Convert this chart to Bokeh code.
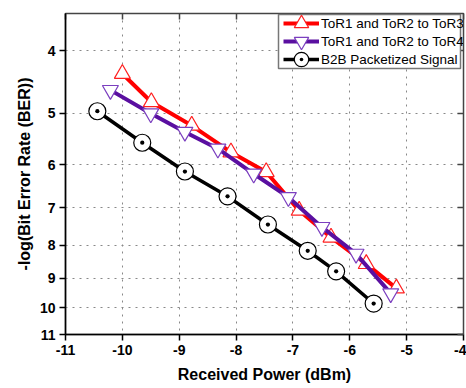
from bokeh.plotting import figure
from bokeh.models import (Range1d, FixedTicker, LinearAxis, PrintfTickFormatter,
                          CustomJSTickFormatter, Legend, LegendItem, BoxAnnotation)
from bokeh.embed import file_html
from bokeh.resources import INLINE

# ---- data ----
x_ticks = [-11, -10, -9, -8, -7, -6, -5, -4]
y_ticks = [4, 5, 6, 7, 8, 9, 10, 11]

power_tor3 = [-10.0, -9.49, -8.78, -8.09, -7.47, -6.89, -6.33, -5.71, -5.18]
ber_tor3 = [4.34, 4.80, 5.22, 5.74, 6.16, 7.07, 7.78, 8.55, 9.33]

power_tor4 = [-10.21, -9.50, -8.90, -8.32, -7.69, -7.08, -6.49, -5.89, -5.28]
ber_tor4 = [4.60, 5.00, 5.34, 5.67, 6.20, 6.74, 7.50, 8.25, 9.50]

power_b2b = [-10.44, -9.65, -8.90, -8.15, -7.44, -6.74, -6.24, -5.58]
ber_b2b = [4.96, 5.55, 6.15, 6.72, 7.43, 8.16, 8.78, 9.85]

labels = ["ToR1 and ToR2 to ToR3", "ToR1 and ToR2 to ToR4", "B2B Packetized Signal"]

FONT = "Liberation Sans"

p = figure(width=466, height=388, x_range=Range1d(-11, -4), y_range=Range1d(11, 3.5),
           y_axis_type="log", output_backend="svg", toolbar_location=None,
           min_border_left=65, min_border_right=3, min_border_top=13, min_border_bottom=54)
p.background_fill_color = "white"
p.border_fill_color = "white"
p.outline_line_color = "#444444"
p.outline_line_width = 1.5

# axes
p.xaxis.ticker = FixedTicker(ticks=x_ticks, minor_ticks=[])
p.yaxis.ticker = FixedTicker(ticks=y_ticks, minor_ticks=[])
p.yaxis.formatter = PrintfTickFormatter(format="%d")
p.xaxis.formatter = PrintfTickFormatter(format="%d")
for ax in (p.xaxis[0], p.yaxis[0]):
    ax.axis_line_color = "black"
    ax.axis_line_width = 1.5
    ax.major_tick_line_color = "black"
    ax.major_tick_line_width = 1.5
    ax.major_tick_out = 6
    ax.major_tick_in = 0
    ax.major_label_text_font = FONT
    ax.major_label_text_font_style = "bold"
    ax.major_label_text_font_size = "14px"
    ax.major_label_text_color = "black"
    ax.axis_label_text_font = FONT
    ax.axis_label_text_font_style = "bold"
    ax.axis_label_text_color = "black"
    ax.major_label_standoff = 4
p.xaxis.axis_label = "Received Power (dBm)"
p.xaxis.axis_label_text_font_size = "16px"
p.xaxis.axis_label_standoff = 8
p.yaxis.axis_label = "-log(Bit Error Rate (BER))"
p.yaxis.axis_label_text_font_size = "16px"
p.yaxis.axis_label_standoff = 4

# mirrored inward ticks
empty = CustomJSTickFormatter(code="return ''")
right_ax = LinearAxis(ticker=FixedTicker(ticks=y_ticks, minor_ticks=[]), formatter=empty,
                      major_tick_in=6, major_tick_out=0, axis_line_color="#444444",
                      major_tick_line_color="#444444", major_tick_line_width=1.5,
                      major_label_standoff=0)
top_ax = LinearAxis(ticker=FixedTicker(ticks=x_ticks, minor_ticks=[]), formatter=empty,
                    major_tick_in=6, major_tick_out=0, axis_line_color="#444444",
                    major_tick_line_color="#444444", major_tick_line_width=1.5,
                    major_label_standoff=0)
p.add_layout(right_ax, "right")
p.add_layout(top_ax, "above")

# grid
for g in (p.xgrid[0], p.ygrid[0]):
    g.grid_line_color = "#888888"
    g.grid_line_dash = "2 5"
    g.grid_line_width = 1
p.xgrid.ticker = FixedTicker(ticks=x_ticks, minor_ticks=[])
p.ygrid.ticker = FixedTicker(ticks=y_ticks, minor_ticks=[])

# series
l1 = p.line(power_tor3, ber_tor3, line_color="#FF0000", line_width=4)
m1 = p.scatter(power_tor3, ber_tor3, marker="triangle", size=16, line_color="#FF2020",
               fill_color="white", line_width=1.2)
l2 = p.line(power_tor4, ber_tor4, line_color="#5A0FA0", line_width=4)
m2 = p.scatter(power_tor4, ber_tor4, marker="inverted_triangle", size=16, line_color="#7B3FBF",
               fill_color="white", line_width=1.2)
l3 = p.line(power_b2b, ber_b2b, line_color="black", line_width=3.5)
m3 = p.scatter(power_b2b, ber_b2b, marker="circle_dot", size=17, line_color="black",
               fill_color="white", line_width=1.2)

# legend frame (drawn separately; one legend per row so the rows can sit close
# together while keeping large markers)
frame_box = BoxAnnotation(left=278, right=460, top=14, bottom=68,
                          left_units="canvas", right_units="canvas",
                          top_units="canvas", bottom_units="canvas",
                          fill_color="white", fill_alpha=1,
                          line_color="#777777", line_width=1.5, line_alpha=1)
p.add_layout(frame_box)

row_bottoms = [292, 274, 256]
for lab, rends, yb in zip(labels, [[l1, m1], [l2, m2], [l3, m3]], row_bottoms):
    lg = Legend(items=[LegendItem(label=lab, renderers=rends)], location=(218, yb))
    lg.margin = 0
    lg.padding = 0
    lg.spacing = 0
    lg.glyph_width = 36
    lg.glyph_height = 38
    lg.label_height = 38
    lg.label_standoff = 2
    lg.label_text_font = FONT
    lg.label_text_font_size = "13.5px"
    lg.label_text_color = "black"
    lg.border_line_alpha = 0
    lg.background_fill_alpha = 0
    p.add_layout(lg, "center")

open("out.html", "w").write(file_html(p, INLINE))
